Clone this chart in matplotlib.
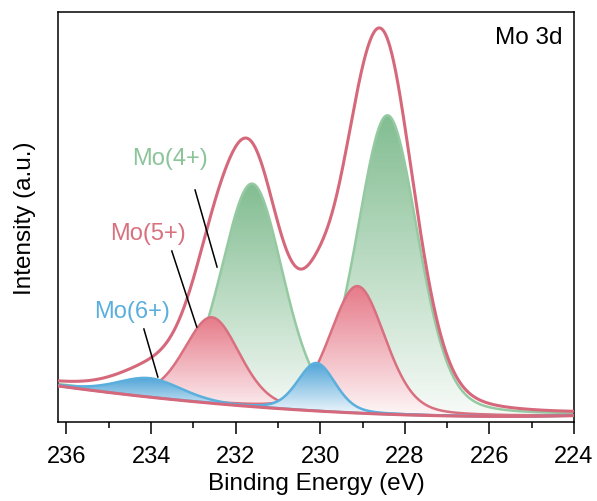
import numpy as np
import matplotlib
matplotlib.use("Agg")
import matplotlib.pyplot as plt
from matplotlib.colors import to_rgb
from matplotlib.patches import PathPatch

plt.rcParams['font.family'] = ['Liberation Sans', 'DejaVu Sans']

# Фитинг Mo 3d: параметры пиков (центр, эВ / высота, отн. ед. / FWHM, эВ)
mo4_center = [231.61, 228.41]
mo4_height = [223, 299]
mo4_fwhm = [1.73, 1.70]

mo5_center = [232.56, 229.12]
mo5_height = [86, 127]
mo5_fwhm = [1.55, 1.55]

mo6_center = [234.03, 230.09]
mo6_height = [19, 48]
mo6_fwhm = [1.80, 1.05]

gl_mix = 0.25  # доля Лоренца в форме линии

# Фон (точки)
bg_energy = [236.17, 233.3, 230.3, 227.15, 224.0]
bg_level = [36, 21.5, 11, 7, 6]

x_ticks = [236, 234, 232, 230, 228, 226, 224]


def pseudo_voigt(e, c, h, w):
    g = np.exp(-4 * np.log(2) * ((e - c) / w) ** 2)
    l = 1 / (1 + (2 * (e - c) / w) ** 2)
    return h * ((1 - gl_mix) * g + gl_mix * l)


def gradient_fill(ax, x, y_low, y_high, color, z):
    poly = ax.fill_between(x, y_low, y_high, facecolor='none', edgecolor='none')
    clip = PathPatch(poly.get_paths()[0], transform=ax.transData,
                     facecolor='none', edgecolor='none')
    ax.add_patch(clip)
    t = np.linspace(0.06, 1, 256)[:, None]
    rgb = np.array(to_rgb(color))
    img = np.ones((256, 1, 3)) * (1 - t[..., None]) + rgb * t[..., None]
    im = ax.imshow(img, extent=[x.min(), x.max(), y_low.min(), y_high.max()],
                   origin='lower', aspect='auto', zorder=z, interpolation='bilinear')
    im.set_clip_path(clip)


E = np.linspace(236.3, 223.9, 1500)
bg = np.polyval(np.polyfit(bg_energy, bg_level, 2), E)

fig = plt.figure(figsize=(5.97, 5.02), dpi=100)
ax = fig.add_axes([0.0972, 0.1574, 0.8643, 0.8167])

species = [
    (mo4_center, mo4_height, mo4_fwhm, '#82bd91', '#95c9a2', 2),
    (mo5_center, mo5_height, mo5_fwhm, '#e67a89', '#d9707f', 3),
    (mo6_center, mo6_height, mo6_fwhm, '#4fa4d8', '#5aafdc', 4),
]

envelope = bg.copy()
for centers, heights, widths, fill_c, line_c, z in species:
    for c, h, w in zip(centers, heights, widths):
        p = pseudo_voigt(E, c, h, w)
        envelope += p
        gradient_fill(ax, E, bg, bg + p, fill_c, z)
        ax.plot(E, bg + p, color=line_c, lw=1.8, zorder=z + 0.1)

ax.plot(E, bg, color='#d6687c', lw=2.2, zorder=6)
ax.plot(E, envelope, color='#d6687c', lw=2.2, zorder=7)

# подписи
ax.text(233.56, 264, 'Mo(4+)', color='#8cc49a', fontsize=17, ha='center', va='center')
ax.text(234.08, 189, 'Mo(5+)', color='#d9707f', fontsize=17, ha='center', va='center')
ax.text(234.46, 111, 'Mo(6+)', color='#5aafdc', fontsize=17, ha='center', va='center')
for (x0, y0), (x1, y1) in [((232.96, 232), (232.44, 155)),
                           ((233.51, 171), (232.92, 95)),
                           ((234.17, 93), (233.84, 45))]:
    ax.plot([x0, x1], [y0, y1], color='black', lw=1.1, zorder=8)

ax.text(0.977, 0.939, 'Mo 3d', transform=ax.transAxes, fontsize=17.5,
        ha='right', va='center')

ax.set_xlim(236.2, 224)
ax.set_ylim(0, 410)
ax.set_xticks(x_ticks)
ax.set_xticks(np.arange(224, 237, 1), minor=True)
ax.set_yticks([])
ax.tick_params(axis='x', which='major', direction='out', length=8.5, width=1.1,
               labelsize=17, pad=8)
ax.tick_params(axis='x', which='minor', direction='out', length=4.5, width=1.1)
for s in ax.spines.values():
    s.set_linewidth(1.1)
ax.set_xlabel('Binding Energy (eV)', fontsize=17.5, labelpad=4)
ax.set_ylabel('Intensity (a.u.)', fontsize=17.5, labelpad=16)

fig.savefig('out.png', dpi=100)
